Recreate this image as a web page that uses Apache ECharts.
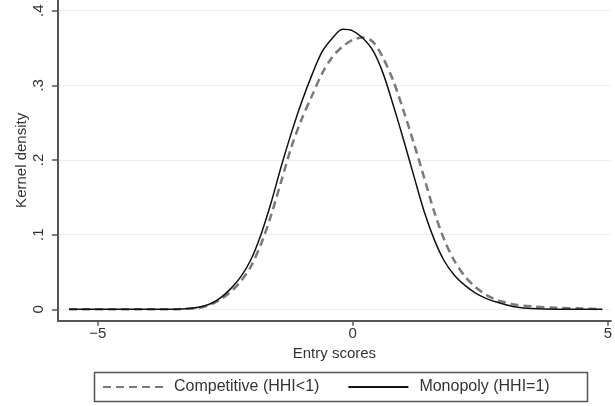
<!DOCTYPE html>
<html>
<head>
<meta charset="utf-8">
<script src="https://cdn.jsdelivr.net/npm/echarts@6/dist/echarts.min.js"></script>
<style>html,body{margin:0;padding:0;background:#fff}#c{width:615px;height:406px}</style>
</head>
<body>
<div id="c"></div>
<script>
// Entry scores (x grid)
const xs = [-5.56, -4.5, -3.5, -3.2, -3.0, -2.8, -2.6, -2.4, -2.2, -2.0, -1.8, -1.6, -1.4, -1.2, -1.0, -0.8, -0.6, -0.4, -0.2, 0.0, 0.2, 0.4, 0.6, 0.8, 1.0, 1.2, 1.4, 1.6, 1.8, 2.0, 2.2, 2.4, 2.6, 2.8, 3.0, 3.2, 3.5, 4.0, 4.5, 4.89];
// Kernel density: Competitive (HHI<1)
const competitive = [0, 0, 0, 0.001, 0.002, 0.006, 0.013, 0.023, 0.037, 0.057, 0.087, 0.126, 0.172, 0.218, 0.255, 0.286, 0.316, 0.338, 0.352, 0.361, 0.364, 0.358, 0.336, 0.305, 0.265, 0.222, 0.176, 0.130, 0.092, 0.064, 0.044, 0.030, 0.020, 0.013, 0.009, 0.006, 0.004, 0.002, 0.001, 0];
// Kernel density: Monopoly (HHI=1)
const monopoly = [0, 0, 0, 0.001, 0.003, 0.007, 0.015, 0.027, 0.043, 0.066, 0.100, 0.143, 0.192, 0.237, 0.278, 0.314, 0.345, 0.363, 0.375, 0.373, 0.363, 0.346, 0.315, 0.272, 0.226, 0.178, 0.131, 0.093, 0.064, 0.045, 0.032, 0.022, 0.015, 0.010, 0.006, 0.003, 0.001, 0, 0, 0];
const seriesNames = ['Competitive (HHI<1)', 'Monopoly (HHI=1)'];
const xTickValues = [-5, 0, 5];
const xTickLabels = ['\u22125', '0', '5'];
const yTickValues = [0, 0.1, 0.2, 0.3, 0.4];
const yTickLabels = ['0', '.1', '.2', '.3', '.4'];

const FONT = 'Liberation Sans, Arial, Helvetica, sans-serif';
const TXT = '#333';
const AX = '#555';

const chart = echarts.init(document.getElementById('c'), null, {renderer: 'canvas'});
chart.setOption({
  animation: false,
  backgroundColor: '#fff',
  textStyle: {fontFamily: FONT},
  grid: {left: 58, right: 0, top: 0, bottom: 85.3, containLabel: false},
  graphic: [{
    type: 'rect', silent: true,
    shape: {x: 94.5, y: 372.5, width: 493, height: 29},
    style: {fill: 'none', stroke: '#555', lineWidth: 1.5}
  }],
  xAxis: {
    type: 'value', min: -5.778, max: 5.06,
    name: 'Entry scores', nameLocation: 'middle', nameGap: 24,
    nameTextStyle: {fontSize: 15, color: TXT, fontFamily: FONT},
    axisLine: {onZero: false, lineStyle: {color: AX, width: 2}},
    axisTick: {show: true, length: 5, customValues: xTickValues, lineStyle: {color: AX, width: 1.5}},
    axisLabel: {customValues: xTickValues, margin: 6, fontSize: 15, color: TXT, fontFamily: FONT,
      formatter: v => xTickLabels[xTickValues.indexOf(v)] ?? ''},
    splitLine: {show: false}
  },
  yAxis: {
    type: 'value', min: -0.0153, max: 0.4143,
    name: 'Kernel density', nameLocation: 'middle', nameGap: 29, nameRotate: 90, nameMoveOverlap: false,
    nameTextStyle: {fontSize: 15, color: TXT, fontFamily: FONT},
    axisLine: {onZero: false, lineStyle: {color: AX, width: 2}},
    axisTick: {show: true, length: 6, customValues: yTickValues, lineStyle: {color: AX, width: 1.5}},
    axisLabel: {customValues: yTickValues, rotate: 90, margin: 12, fontSize: 15, color: TXT, fontFamily: FONT,
      formatter: v => { const i = yTickValues.findIndex(t => Math.abs(t - v) < 1e-9); return i >= 0 ? yTickLabels[i] : ''; }},
    splitLine: {show: true, lineStyle: {color: '#ececec', width: 1}}
  },
  legend: {
    left: 102, top: 379,
    orient: 'horizontal',
    itemWidth: 60, itemHeight: 14, itemGap: 28,
    padding: 0,
    itemStyle: {opacity: 0},
    textStyle: {fontSize: 16, color: TXT, fontFamily: FONT, padding: [0, 0, 0, 6]},
    data: seriesNames
  },
  series: [
    {
      name: seriesNames[0], type: 'line', showSymbol: false, symbol: 'none', smooth: 0.3,
      data: xs.map((x, i) => [x, competitive[i]]),
      lineStyle: {color: '#7a7a7a', width: 2.5, type: [8, 5]},
      itemStyle: {color: '#7a7a7a'}
    },
    {
      name: seriesNames[1], type: 'line', showSymbol: false, symbol: 'none', smooth: 0.3,
      data: xs.map((x, i) => [x, monopoly[i]]),
      lineStyle: {color: '#111', width: 1.5},
      itemStyle: {color: '#111'}
    }
  ]
});
</script>
</body>
</html>
